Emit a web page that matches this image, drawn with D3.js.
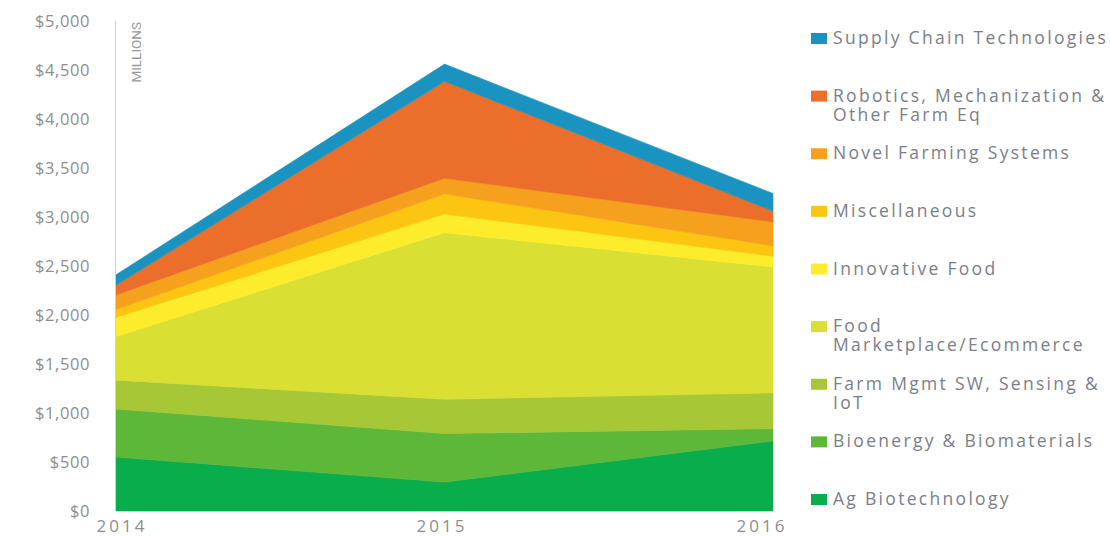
<!DOCTYPE html>
<html>
<head>
<meta charset="utf-8">
<script src="https://cdn.jsdelivr.net/npm/d3@7/dist/d3.min.js"></script>
<style>
  html, body { margin: 0; padding: 0; background: #fff; }
  svg { display: block; }
  text { font-family: "Open Sans", "Lato", sans-serif; }
</style>
</head>
<body>
<svg id="chart" width="1110" height="536"></svg>
<script>
// Agtech investment by category, US$ millions
const years = [2014, 2015, 2016];

const agBiotech      = [550, 295, 715];
const bioenergy      = [490, 495, 125];
const farmMgmt       = [295, 350, 365];
const foodMarket     = [445, 1700, 1285];
const innovativeFood = [195, 190, 110];
const miscellaneous  = [80, 205, 105];
const novelFarming   = [150, 160, 245];
const robotics       = [100, 990, 110];
const supplyChain    = [105, 175, 180];

const yTicks = [0, 500, 1000, 1500, 2000, 2500, 3000, 3500, 4000, 4500, 5000];

// bottom-to-top stacking order
const seriesKeys = ["ag", "bio", "farm", "food", "innov", "misc", "novel", "robo", "supply"];
const seriesValues = [agBiotech, bioenergy, farmMgmt, foodMarket, innovativeFood,
                      miscellaneous, novelFarming, robotics, supplyChain];
const seriesLabels = [
  ["Ag Biotechnology"],
  ["Bioenergy & Biomaterials"],
  ["Farm Mgmt SW, Sensing &", "IoT"],
  ["Food", "Marketplace/Ecommerce"],
  ["Innovative Food"],
  ["Miscellaneous"],
  ["Novel Farming Systems"],
  ["Robotics, Mechanization &", "Other Farm Eq"],
  ["Supply Chain Technologies"]
];
const seriesColors = ["#0aad4b", "#5db739", "#a6c736", "#d9df33", "#fdec2c",
                      "#fcc512", "#f6a11d", "#eb6e2a", "#1b93c1"];

const table = years.map((yr, i) => {
  const row = { year: yr };
  seriesKeys.forEach((k, j) => { row[k] = seriesValues[j][i]; });
  return row;
});

const svg = d3.select("#chart");

const x = d3.scaleLinear().domain([2014, 2016]).range([116, 773]);
const y = d3.scaleLinear().domain([0, 5000]).range([511, 21]);
const color = d3.scaleOrdinal().domain(seriesKeys).range(seriesColors);

const stacked = d3.stack().keys(seriesKeys)(table);

const area = d3.area()
  .x(d => x(d.data.year))
  .y0(d => y(d[0]))
  .y1(d => y(d[1]));

svg.append("g")
  .selectAll("path")
  .data(stacked)
  .join("path")
  .attr("d", area)
  .attr("fill", d => color(d.key))
  .attr("stroke", d => color(d.key))
  .attr("stroke-width", 0.6);

// vertical axis rule
svg.append("line")
  .attr("x1", 115.5).attr("x2", 115.5)
  .attr("y1", y(5000)).attr("y2", y(0))
  .attr("stroke", "#d2d2d2")
  .attr("stroke-width", 1);

// y axis labels
const yAxis = d3.axisLeft(y)
  .tickValues(yTicks)
  .tickSize(0)
  .tickPadding(3)
  .tickFormat(d => "$" + d3.format(",")(d));

const gy = svg.append("g")
  .attr("transform", "translate(93,0)")
  .call(yAxis);
gy.select(".domain").remove();
gy.selectAll("text")
  .attr("fill", "#8e8e8e")
  .style("font-size", "16.5px")
  .style("letter-spacing", "0.6px");

svg.append("text")
  .attr("transform", `translate(141,${y(5000) + 1}) rotate(-90)`)
  .attr("text-anchor", "end")
  .attr("fill", "#9a9a9a")
  .style("font-size", "13.5px")
  .style("font-family", "'Liberation Sans Narrow', 'Roboto', sans-serif")
  .text("MILLIONS");

// year labels
const xLabel = d3.scalePoint().domain(years).range([122, 762]);
svg.append("g")
  .selectAll("text")
  .data(years)
  .join("text")
  .attr("x", d => xLabel(d))
  .attr("y", 532)
  .attr("text-anchor", "middle")
  .attr("fill", "#8e8e8e")
  .style("font-size", "17px")
  .style("letter-spacing", "3px")
  .text(d => d);

// legend, top entry first
const legendOrder = d3.range(seriesKeys.length).reverse();
const ly = d3.scalePoint().domain(legendOrder).range([38, 499]);

const legend = svg.append("g")
  .selectAll("g")
  .data(legendOrder)
  .join("g")
  .attr("transform", j => `translate(811,${ly(j)})`);

legend.append("rect")
  .attr("x", 0).attr("y", -5)
  .attr("width", 16).attr("height", 11)
  .attr("fill", j => seriesColors[j]);

legend.append("text")
  .attr("x", 22)
  .attr("fill", "#7b7e88")
  .style("font-size", "17.5px")
  .style("letter-spacing", "2.3px")
  .selectAll("tspan")
  .data(j => seriesLabels[j])
  .join("tspan")
  .attr("x", 22)
  .attr("y", (d, i) => 6 + i * 19)
  .text(d => d);
</script>
</body>
</html>
